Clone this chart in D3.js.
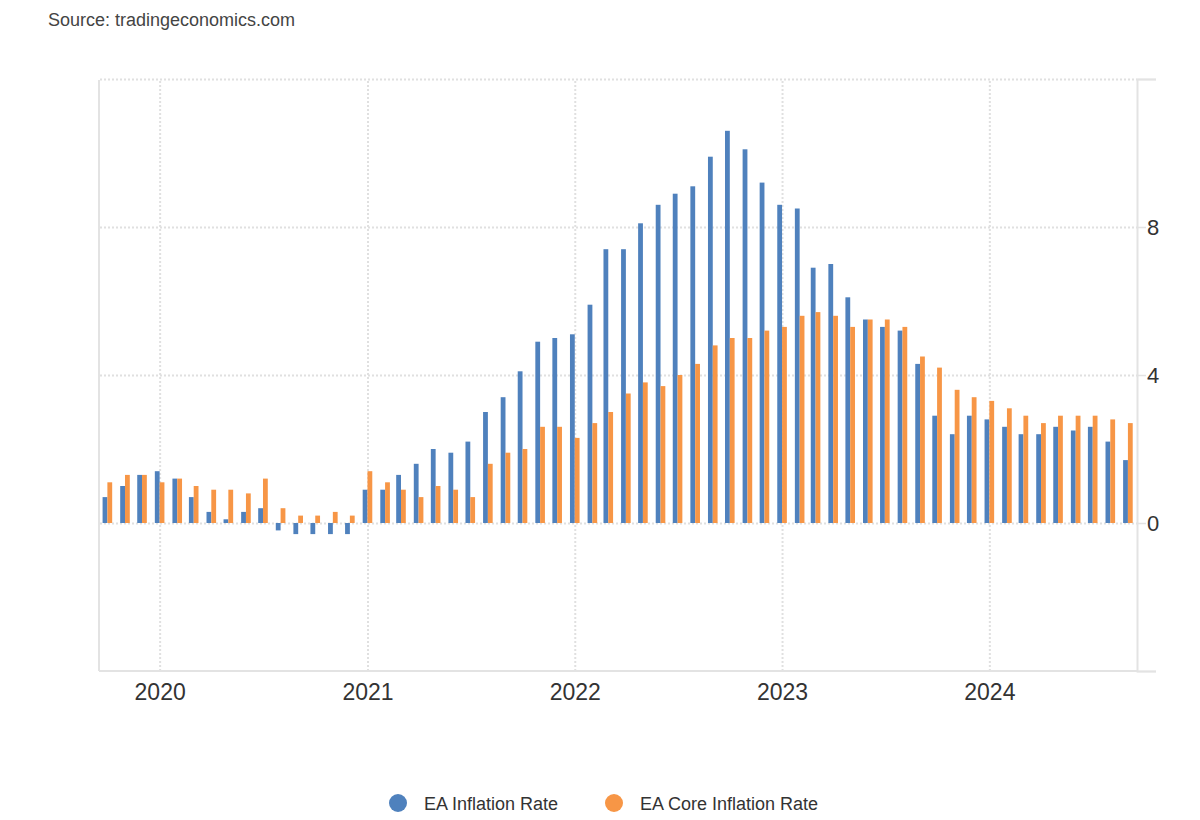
<!DOCTYPE html>
<html>
<head>
<meta charset="utf-8">
<script src="https://cdn.jsdelivr.net/npm/d3@7"></script>
<style>
  body { margin: 0; background: #fff; font-family: "Liberation Sans", Arial, sans-serif; }
  svg text { font-family: "Liberation Sans", Arial, sans-serif; }
</style>
</head>
<body>
<svg id="chart" width="1200" height="820"></svg>
<script>
// monthly observations, Oct 2019 .. Sep 2024
const months = [
  "2019-10","2019-11","2019-12",
  "2020-01","2020-02","2020-03","2020-04","2020-05","2020-06","2020-07","2020-08","2020-09","2020-10","2020-11","2020-12",
  "2021-01","2021-02","2021-03","2021-04","2021-05","2021-06","2021-07","2021-08","2021-09","2021-10","2021-11","2021-12",
  "2022-01","2022-02","2022-03","2022-04","2022-05","2022-06","2022-07","2022-08","2022-09","2022-10","2022-11","2022-12",
  "2023-01","2023-02","2023-03","2023-04","2023-05","2023-06","2023-07","2023-08","2023-09","2023-10","2023-11","2023-12",
  "2024-01","2024-02","2024-03","2024-04","2024-05","2024-06","2024-07","2024-08","2024-09"
]
const inflation = [
  0.7,1.0,1.3,
  1.4,1.2,0.7,0.3,0.1,0.3,0.4,-0.2,-0.3,-0.3,-0.3,-0.3,
  0.9,0.9,1.3,1.6,2.0,1.9,2.2,3.0,3.4,4.1,4.9,5.0,
  5.1,5.9,7.4,7.4,8.1,8.6,8.9,9.1,9.9,10.6,10.1,9.2,
  8.6,8.5,6.9,7.0,6.1,5.5,5.3,5.2,4.3,2.9,2.4,2.9,
  2.8,2.6,2.4,2.4,2.6,2.5,2.6,2.2,1.7
]
const coreInflation = [
  1.1,1.3,1.3,
  1.1,1.2,1.0,0.9,0.9,0.8,1.2,0.4,0.2,0.2,0.3,0.2,
  1.4,1.1,0.9,0.7,1.0,0.9,0.7,1.6,1.9,2.0,2.6,2.6,
  2.3,2.7,3.0,3.5,3.8,3.7,4.0,4.3,4.8,5.0,5.0,5.2,
  5.3,5.6,5.7,5.6,5.3,5.5,5.5,5.3,4.5,4.2,3.6,3.4,
  3.3,3.1,2.9,2.7,2.9,2.9,2.9,2.8,2.7
]
const seriesNames = ["EA Inflation Rate", "EA Core Inflation Rate"]
const seriesColors = ["#4f81bd", "#f79646"]
const yTicks = [-4, 0, 4, 8, 12]
const yLabelled = [0, 4, 8]
const yearTicks = ["2020","2021","2022","2023","2024"]

const parseMonth = d3.utcParse("%Y-%m")
const dates = months.map(parseMonth)

const plotLeft = 100, plotRight = 1137, plotTop = 79, plotBottom = 671
const svg = d3.select("#chart")

let xScale = d3.scaleUtc()
    .domain([new Date(Date.UTC(2019,8,18)), new Date(Date.UTC(2024,8,17))])
    .range([plotLeft, plotRight])
let yScale = d3.scaleLinear().domain([-4, 12]).range([plotBottom, plotTop])

// source note
svg.append("text")
    .attr("x", 48).attr("y", 26)
    .attr("fill", "#444")
    .style("font-size", "18px")
    .text("Source: tradingeconomics.com")

// horizontal grid
let yGrid = d3.axisLeft(yScale).tickValues(yTicks.filter(d => d > -4))
    .tickSize(-(plotRight - plotLeft)).tickFormat("")
svg.append("g").attr("class","grid")
    .attr("transform", `translate(${plotLeft},0)`)
    .call(yGrid)

// vertical grid + year labels
let x_axis = d3.axisBottom(xScale)
    .tickValues(yearTicks.map(d3.utcParse("%Y")))
    .tickFormat(d3.utcFormat("%Y"))
    .tickSizeInner(-(plotBottom - plotTop)).tickSizeOuter(0)
    .tickPadding(13)
svg.append("g").attr("class","grid xgrid")
    .attr("transform", `translate(0,${plotBottom})`)
    .call(x_axis)

svg.selectAll(".grid .domain").remove()
svg.selectAll(".grid line")
    .attr("stroke", "#e0e0e0")
    .attr("stroke-width", 2)
    .attr("stroke-dasharray", "2,2")
svg.selectAll(".xgrid text")
    .attr("fill", "#333")
    .style("font-size", "23px")

// frame lines
svg.append("line").attr("x1", plotLeft-1).attr("x2", plotLeft-1).attr("y1", plotTop+1).attr("y2", plotBottom)
    .attr("stroke", "#e3e3e3").attr("stroke-width", 2)
svg.append("line").attr("x1", plotLeft-1).attr("x2", plotRight).attr("y1", plotBottom).attr("y2", plotBottom)
    .attr("stroke", "#e3e3e3").attr("stroke-width", 2)

// right axis
let y_axis = d3.axisRight(yScale).tickValues(yTicks)
    .tickSize(19)
    .tickFormat(d => yLabelled.includes(d) ? d : "")
let ra = svg.append("g").attr("class","raxis")
    .attr("transform", `translate(${plotRight},0)`)
    .call(y_axis)
ra.select(".domain").attr("stroke", "#e3e3e3").attr("stroke-width", 2)
ra.selectAll(".tick line").attr("stroke", "#e3e3e3").attr("stroke-width", 1.5)
    .attr("x2", d => yLabelled.includes(d) ? 9 : 19)
ra.selectAll(".tick text").attr("x", 10).attr("fill", "#333").style("font-size", "22px")

// bars
const bw = 4.8
const series = [inflation, coreInflation]
series.forEach((vals, s) => {
    svg.append("g").selectAll("rect")
        .data(vals)
        .enter()
        .append("rect")
        .attr("x", (d,i) => xScale(dates[i]) + (s === 0 ? -bw : 0))
        .attr("width", bw)
        .attr("y", d => yScale(Math.max(0, d)))
        .attr("height", d => Math.abs(yScale(d) - yScale(0)))
        .attr("fill", seriesColors[s])
})

// legend
const legendX = [398, 614]
let lg = svg.append("g").selectAll("g")
    .data(seriesNames)
    .enter()
    .append("g")
    .attr("transform", (d,i) => `translate(${legendX[i]},803)`)
lg.append("circle").attr("r", 9).attr("fill", (d,i) => seriesColors[i])
lg.append("text").attr("x", 26).attr("y", 6.5)
    .attr("fill", "#333").style("font-size", "18px")
    .text(d => d)
</script>
</body>
</html>
